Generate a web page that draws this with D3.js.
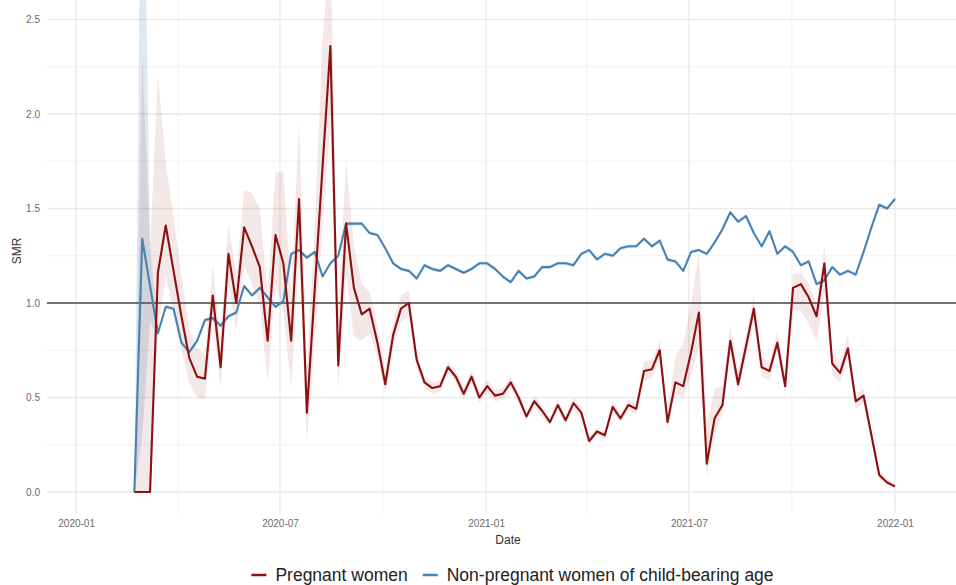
<!DOCTYPE html>
<html>
<head>
<meta charset="utf-8">
<script src="https://cdn.jsdelivr.net/npm/d3@7"></script>
<style>
  body { margin: 0; background: #ffffff; }
  svg { display: block; font-family: "Liberation Sans", Arial, Helvetica, sans-serif; }
</style>
</head>
<body>
<svg id="chart" width="956" height="585"></svg>
<script>
// Weekly standardised mortality ratios (SMR) with confidence bands
const firstWeek = "2020-02-22";

const pregnant = [
  0, 0, 0, 1.16, 1.41, 1.17, 0.93, 0.71, 0.61, 0.60,
  1.04, 0.66, 1.26, 1.00, 1.40, 1.30, 1.19, 0.80, 1.36, 1.21,
  0.80, 1.55, 0.42, 1.07, 1.72, 2.36, 0.67, 1.42, 1.08, 0.94,
  0.97, 0.79, 0.57, 0.83, 0.97, 1.00, 0.70, 0.58, 0.55, 0.56,
  0.66, 0.61, 0.52, 0.61, 0.50, 0.56, 0.51, 0.52, 0.58, 0.50,
  0.40, 0.48, 0.43, 0.37, 0.46, 0.38, 0.47, 0.42, 0.27, 0.32,
  0.30, 0.45, 0.39, 0.46, 0.44, 0.64, 0.65, 0.75, 0.37, 0.58,
  0.56, 0.74, 0.95, 0.15, 0.39, 0.46, 0.80, 0.57, 0.77, 0.97,
  0.66, 0.64, 0.79, 0.56, 1.08, 1.10, 1.03, 0.93, 1.21, 0.68,
  0.63, 0.76, 0.48, 0.51, 0.30, 0.09, 0.05, 0.03
];
const pregnantLo = [
  0, 0, 0, 0.85, 1.15, 0.95, 0.75, 0.58, 0.50, 0.49,
  0.90, 0.55, 1.10, 0.85, 1.20, 1.10, 1.00, 0.58, 1.10, 0.95,
  0.55, 1.25, 0.26, 0.80, 1.40, 1.95, 0.54, 1.15, 0.82, 0.80,
  0.84, 0.72, 0.52, 0.76, 0.90, 0.93, 0.66, 0.55, 0.52, 0.53,
  0.63, 0.58, 0.49, 0.58, 0.47, 0.53, 0.48, 0.49, 0.55, 0.47,
  0.38, 0.45, 0.40, 0.35, 0.43, 0.36, 0.44, 0.39, 0.25, 0.30,
  0.28, 0.42, 0.37, 0.43, 0.41, 0.59, 0.60, 0.70, 0.33, 0.52,
  0.50, 0.62, 0.76, 0.08, 0.31, 0.41, 0.73, 0.52, 0.72, 0.90,
  0.61, 0.59, 0.74, 0.51, 0.96, 0.96, 0.89, 0.80, 1.05, 0.62,
  0.58, 0.70, 0.44, 0.47, 0.27, 0.07, 0.04, 0.02
];
const pregnantHi = [
  0, 2.30, 1.30, 2.20, 1.75, 1.45, 1.15, 0.86, 0.76, 0.73,
  1.20, 0.82, 1.42, 1.15, 1.60, 1.58, 1.50, 1.05, 1.69, 1.69,
  1.05, 1.96, 0.65, 1.40, 2.40, 2.90, 0.95, 1.75, 1.30, 1.10,
  1.06, 0.88, 0.63, 0.90, 1.04, 1.07, 0.74, 0.61, 0.58, 0.59,
  0.69, 0.64, 0.55, 0.64, 0.53, 0.59, 0.54, 0.55, 0.61, 0.53,
  0.42, 0.51, 0.46, 0.39, 0.49, 0.40, 0.50, 0.45, 0.29, 0.34,
  0.32, 0.48, 0.41, 0.49, 0.47, 0.69, 0.70, 0.80, 0.42, 0.72,
  0.78, 1.00, 1.27, 0.35, 0.55, 0.56, 0.88, 0.64, 0.83, 1.04,
  0.71, 0.69, 0.85, 0.61, 1.15, 1.16, 1.10, 1.00, 1.30, 0.74,
  0.68, 0.83, 0.52, 0.55, 0.33, 0.11, 0.07, 0.04
];

const nonPregnant = [
  0, 1.34, 1.09, 0.84, 0.98, 0.97, 0.79, 0.74, 0.80, 0.91,
  0.92, 0.88, 0.93, 0.95, 1.09, 1.04, 1.08, 1.03, 0.98, 1.01,
  1.26, 1.28, 1.24, 1.27, 1.14, 1.21, 1.25, 1.42, 1.42, 1.42,
  1.37, 1.36, 1.29, 1.21, 1.18, 1.17, 1.13, 1.20, 1.18, 1.17,
  1.20, 1.18, 1.16, 1.18, 1.21, 1.21, 1.18, 1.14, 1.11, 1.17,
  1.13, 1.14, 1.19, 1.19, 1.21, 1.21, 1.20, 1.26, 1.28, 1.23,
  1.26, 1.25, 1.29, 1.30, 1.30, 1.34, 1.30, 1.33, 1.23, 1.22,
  1.17, 1.27, 1.28, 1.26, 1.32, 1.39, 1.48, 1.43, 1.46, 1.37,
  1.30, 1.38, 1.26, 1.30, 1.27, 1.20, 1.22, 1.10, 1.12, 1.19,
  1.15, 1.17, 1.15, 1.27, 1.40, 1.52, 1.50, 1.55
];
const nonPregnantLo = [
  0, 0.30, 0.90, 0.83, 0.97, 0.96, 0.78, 0.73, 0.79, 0.90,
  0.91, 0.87, 0.92, 0.94, 1.08, 1.03, 1.07, 1.02, 0.97, 1.00,
  1.25, 1.27, 1.23, 1.26, 1.13, 1.20, 1.24, 1.41, 1.41, 1.41,
  1.36, 1.35, 1.28, 1.20, 1.17, 1.16, 1.12, 1.19, 1.17, 1.16,
  1.19, 1.17, 1.15, 1.17, 1.20, 1.20, 1.17, 1.13, 1.10, 1.16,
  1.12, 1.13, 1.18, 1.18, 1.20, 1.20, 1.19, 1.25, 1.27, 1.22,
  1.25, 1.24, 1.28, 1.29, 1.29, 1.33, 1.29, 1.32, 1.22, 1.21,
  1.16, 1.26, 1.27, 1.25, 1.31, 1.38, 1.47, 1.42, 1.45, 1.36,
  1.29, 1.37, 1.25, 1.29, 1.26, 1.19, 1.21, 1.09, 1.11, 1.18,
  1.14, 1.16, 1.14, 1.26, 1.39, 1.51, 1.49, 1.54
];
const nonPregnantHi = [
  0, 4.00, 1.30, 0.85, 0.99, 0.98, 0.80, 0.75, 0.81, 0.92,
  0.93, 0.89, 0.94, 0.96, 1.10, 1.05, 1.09, 1.04, 0.99, 1.02,
  1.27, 1.29, 1.25, 1.28, 1.15, 1.22, 1.26, 1.43, 1.43, 1.43,
  1.38, 1.37, 1.30, 1.22, 1.19, 1.18, 1.14, 1.21, 1.19, 1.18,
  1.21, 1.19, 1.17, 1.19, 1.22, 1.22, 1.19, 1.15, 1.12, 1.18,
  1.14, 1.15, 1.20, 1.20, 1.22, 1.22, 1.21, 1.27, 1.29, 1.24,
  1.27, 1.26, 1.30, 1.31, 1.31, 1.35, 1.31, 1.34, 1.24, 1.23,
  1.18, 1.28, 1.29, 1.27, 1.33, 1.40, 1.49, 1.44, 1.47, 1.38,
  1.31, 1.39, 1.27, 1.31, 1.28, 1.21, 1.23, 1.11, 1.13, 1.20,
  1.16, 1.18, 1.16, 1.28, 1.41, 1.53, 1.51, 1.56
];

const yTicks = [0, 0.5, 1.0, 1.5, 2.0, 2.5];
const yMinorTicks = [0.25, 0.75, 1.25, 1.75, 2.25];
const xTicks = ["2020-01", "2020-07", "2021-01", "2021-07", "2022-01"];
const xMinorTicks = ["2020-04", "2020-10", "2021-04", "2021-10"];
const xLimits = ["2019-12-06", "2022-03-09"];
const yLimits = [-0.111, 2.603];
const referenceLine = 1.0;
const seriesNames = ["Pregnant women", "Non-pregnant women of child-bearing age"];
const seriesColors = ["#8b1010", "#4682b4"];

// ---- layout ----
const panel = { left: 47, right: 970, top: 0, bottom: 513 };

const parseDay = d3.utcParse("%Y-%m-%d");
const parseMonth = d3.utcParse("%Y-%m");
const fmtMonth = d3.utcFormat("%Y-%m");

const start = parseDay(firstWeek);
const dates = pregnant.map((_, i) => d3.utcDay.offset(start, 7 * i));

const x = d3.scaleUtc()
  .domain(xLimits.map(parseDay))
  .range([panel.left, panel.right]);
const y = d3.scaleLinear()
  .domain(yLimits)
  .range([panel.bottom, panel.top]);

const svg = d3.select("#chart");

svg.append("defs").append("clipPath").attr("id", "panel-clip")
  .append("rect")
  .attr("x", panel.left).attr("y", panel.top)
  .attr("width", panel.right - panel.left)
  .attr("height", panel.bottom - panel.top);

// ---- grid ----
const grid = svg.append("g");
grid.selectAll(".ymin").data(yMinorTicks).join("line")
  .attr("x1", panel.left).attr("x2", panel.right)
  .attr("y1", d => y(d)).attr("y2", d => y(d))
  .attr("stroke", "#f2f2f2").attr("stroke-width", 1);
grid.selectAll(".xmin").data(xMinorTicks.map(parseMonth)).join("line")
  .attr("y1", panel.top).attr("y2", panel.bottom)
  .attr("x1", d => x(d)).attr("x2", d => x(d))
  .attr("stroke", "#f2f2f2").attr("stroke-width", 1);
grid.selectAll(".ymaj").data(yTicks).join("line")
  .attr("x1", panel.left).attr("x2", panel.right)
  .attr("y1", d => y(d)).attr("y2", d => y(d))
  .attr("stroke", "#e9e9e9").attr("stroke-width", 1.3);
grid.selectAll(".xmaj").data(xTicks.map(parseMonth)).join("line")
  .attr("y1", panel.top).attr("y2", panel.bottom)
  .attr("x1", d => x(d)).attr("x2", d => x(d))
  .attr("stroke", "#e9e9e9").attr("stroke-width", 1.3);

// ---- axes (labels only, minimal theme) ----
const yAxis = svg.append("g")
  .attr("transform", `translate(${panel.left},0)`)
  .call(d3.axisLeft(y).tickValues(yTicks).tickFormat(d3.format(".1f")).tickSize(0).tickPadding(7));
yAxis.select(".domain").remove();
yAxis.selectAll("text").attr("fill", "#6a6a6a").attr("font-size", 10)
  .attr("font-family", "Liberation Sans, Arial, sans-serif");

const xAxis = svg.append("g")
  .attr("transform", `translate(0,${panel.bottom})`)
  .call(d3.axisBottom(x).tickValues(xTicks.map(parseMonth)).tickFormat(fmtMonth).tickSize(0).tickPadding(7));
xAxis.select(".domain").remove();
xAxis.selectAll("text").attr("fill", "#6a6a6a").attr("font-size", 10)
  .attr("font-family", "Liberation Sans, Arial, sans-serif");

svg.append("text")
  .attr("x", 508).attr("y", 544)
  .attr("text-anchor", "middle")
  .attr("font-size", 12).attr("fill", "#333")
  .text("Date");

svg.append("text")
  .attr("transform", "translate(21,251) rotate(-90)")
  .attr("text-anchor", "middle")
  .attr("font-size", 12).attr("fill", "#333")
  .text("SMR");

// ---- bands and lines ----
const plot = svg.append("g").attr("clip-path", "url(#panel-clip)");

const series = [
  { name: seriesNames[1], color: seriesColors[1], v: nonPregnant, lo: nonPregnantLo, hi: nonPregnantHi, alpha: 0.18 },
  { name: seriesNames[0], color: seriesColors[0], v: pregnant, lo: pregnantLo, hi: pregnantHi, alpha: 0.1 }
];

const area = d3.area()
  .x(d => x(d.date)).y0(d => y(d.lo)).y1(d => y(d.hi));
const line = d3.line()
  .x(d => x(d.date)).y(d => y(d.v));

series.forEach(s => {
  const rows = dates.map((date, i) => ({ date, v: s.v[i], lo: s.lo[i], hi: s.hi[i] }));
  plot.append("path").datum(rows)
    .attr("d", area)
    .attr("fill", s.color).attr("fill-opacity", s.alpha)
    .attr("stroke", "none");
  s.rows = rows;
});

plot.append("line")
  .attr("x1", panel.left).attr("x2", panel.right)
  .attr("y1", y(referenceLine)).attr("y2", y(referenceLine))
  .attr("stroke", "#4a4a4a").attr("stroke-width", 1.6);

series.forEach(s => {
  plot.append("path").datum(s.rows)
    .attr("d", line)
    .attr("fill", "none")
    .attr("stroke", s.color).attr("stroke-width", 2.1)
    .attr("stroke-linejoin", "round");
});

// ---- legend ----
const legend = svg.append("g");
const legendFont = 17.5;
let cx = 0;
const items = [
  { name: seriesNames[0], color: seriesColors[0] },
  { name: seriesNames[1], color: seriesColors[1] }
];
items.forEach(it => {
  const g = legend.append("g").attr("transform", `translate(${cx},0)`);
  g.append("line")
    .attr("x1", 0).attr("x2", 15).attr("y1", -6).attr("y2", -6)
    .attr("stroke", it.color).attr("stroke-width", 2.5);
  const t = g.append("text")
    .attr("x", 24).attr("y", 0)
    .attr("font-size", legendFont).attr("fill", "#222")
    .text(it.name);
  cx += 24 + t.node().getComputedTextLength() + 15;
});
const legendWidth = cx - 15;
legend.attr("transform", `translate(${512.5 - legendWidth / 2},581)`);
</script>
</body>
</html>
